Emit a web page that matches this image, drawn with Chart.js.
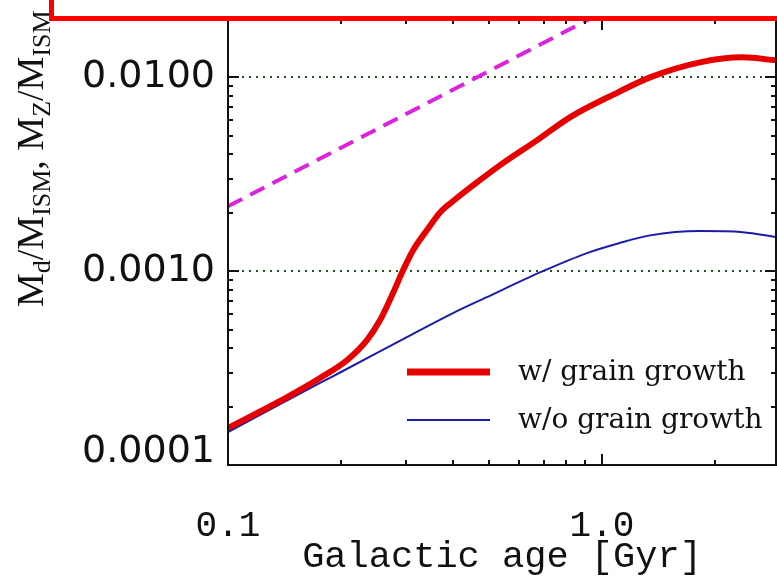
<!DOCTYPE html>
<html>
<head>
<meta charset="utf-8">
<script src="https://cdn.jsdelivr.net/npm/chart.js@4"></script>
<style>
  html, body { margin: 0; padding: 0; background: #fff; overflow: hidden; }
  #wrap { position: relative; width: 777px; height: 582px; }
  #redBox {
    position: absolute; left: 49px; top: -10px; width: 760px; height: 31px;
    box-sizing: border-box; border: 5px solid #ff0000; background: #fff;
  }
</style>
</head>
<body>
<div id="wrap">
  <canvas id="dustChart"></canvas>
  <div id="redBox"></div>
</div>
<script>
/* ============================== */
/* DATA */
/* ============================== */

// galactic age [Gyr]
const ageRed = [0.1, 0.1439, 0.1762, 0.208, 0.2353, 0.2549, 0.2762, 0.2938, 0.3123, 0.3405,
                0.369, 0.40, 0.4519, 0.5435, 0.670, 0.821, 1.104, 1.344, 1.828, 2.383, 2.92];
// Md/MISM with grain growth
const dustWithGrowth = [1.55e-4, 2.24e-4, 2.81e-4, 3.47e-4, 4.41e-4, 5.58e-4, 7.71e-4, 1.01e-3, 1.28e-3, 1.63e-3,
                        2.01e-3, 2.30e-3, 2.77e-3, 3.61e-3, 4.73e-3, 6.22e-3, 8.37e-3, 1.0e-2, 1.195e-2, 1.268e-2, 1.224e-2];

const ageBlue = [0.1, 0.1762, 0.2, 0.301, 0.3997, 0.4925, 0.695, 0.912, 1.104, 1.344, 1.828, 2.383, 2.92];
// Md/MISM without grain growth
const dustNoGrowth = [1.48e-4, 2.65e-4, 3.01e-4, 4.57e-4, 6.08e-4, 7.35e-4, 1.0e-3, 1.24e-3, 1.39e-3, 1.53e-3, 1.61e-3, 1.59e-3, 1.50e-3];

// MZ/MISM (metallicity)
const ageMetal = [0.1, 0.2, 0.5, 1.0];
const metals = [0.00216, 0.00432, 0.0108, 0.0216];

const legendLabels = ['w/ grain growth', 'w/o grain growth'];

const xTickValues = [0.1, 1.0];
const xTickLabels = ['0.1', '1.0'];
const yTickValues = [0.0001, 0.001, 0.01];
const yTickLabels = ['0.0001', '0.0010', '0.0100'];
const gridValues = [0.001, 0.01];

const xTitle = 'Galactic age [Gyr]';
// [text, isSubscript]
const yTitleParts = [['M', 0], ['d', 1], ['/', 0], ['M', 0], ['ISM', 1], [', ', 0],
                     ['M', 0], ['Z', 1], ['/', 0], ['M', 0], ['ISM', 1]];

const X_MIN = 0.1, X_MAX = 2.92;
const Y_MIN = 0.0001, Y_MAX = 0.02;

function toPoints(xs, ys){
  return xs.map((x, i) => ({x: x, y: ys[i]}));
}

function logSteps(min, max){
  const out = [];
  for(let e = Math.floor(Math.log10(min)); Math.pow(10, e) <= max * 1.0001; e++){
    const d = Math.pow(10, e);
    for(let k = 1; k < 10; k++){
      const v = k * d;
      if(v >= min * 0.9999 && v <= max * 1.0001) out.push({v: v, major: k === 1});
    }
  }
  return out;
}

/* ============================== */
/* FRAME, GRID, LEGEND, Y TITLE */
/* ============================== */

const framePlugin = {
  id: 'framePlugin',
  beforeDatasetsDraw(chart){
    const {ctx, chartArea: a, scales: {y}} = chart;
    ctx.save();
    ctx.strokeStyle = 'rgb(35,80,35)';
    ctx.lineWidth = 2;
    ctx.setLineDash([2, 5]);
    gridValues.forEach(v => {
      const py = Math.round(y.getPixelForValue(v));
      ctx.beginPath();
      ctx.moveTo(a.left, py);
      ctx.lineTo(a.right, py);
      ctx.stroke();
    });
    ctx.restore();
  },
  afterDatasetsDraw(chart){
    const {ctx, chartArea: a, scales: {x, y}} = chart;
    ctx.save();
    ctx.strokeStyle = '#111';
    ctx.lineWidth = 2;
    ctx.strokeRect(a.left, a.top, a.right - a.left, a.bottom - a.top);

    logSteps(Y_MIN, Y_MAX).forEach(t => {
      const py = Math.round(y.getPixelForValue(t.v));
      const len = t.major ? 11 : 5;
      ctx.beginPath();
      ctx.moveTo(a.left, py); ctx.lineTo(a.left + len, py);
      ctx.moveTo(a.right, py); ctx.lineTo(a.right - len, py);
      ctx.stroke();
    });
    logSteps(X_MIN, X_MAX).forEach(t => {
      const px = Math.round(x.getPixelForValue(t.v));
      const len = t.major ? 11 : 5;
      ctx.beginPath();
      ctx.moveTo(px, a.bottom); ctx.lineTo(px, a.bottom - len);
      ctx.moveTo(px, a.top); ctx.lineTo(px, a.top + len);
      ctx.stroke();
    });

    // legend
    const rows = [372, 420];
    chart.data.datasets.slice(0, 2).forEach((ds, i) => {
      ctx.strokeStyle = ds.borderColor;
      ctx.lineWidth = i === 0 ? 7 : 2;
      ctx.beginPath();
      ctx.moveTo(407, rows[i]);
      ctx.lineTo(490, rows[i]);
      ctx.stroke();
      ctx.fillStyle = '#111';
      ctx.font = '28px "DejaVu Serif"';
      ctx.textBaseline = 'alphabetic';
      ctx.textAlign = 'left';
      ctx.fillText(ds.label, 518, rows[i] + 8);
    });
    ctx.restore();
  },
  afterDraw(chart){
    const {ctx} = chart;
    ctx.save();
    ctx.translate(43, 307);
    ctx.rotate(-Math.PI / 2);
    ctx.fillStyle = '#111';
    ctx.textBaseline = 'alphabetic';
    ctx.textAlign = 'left';
    let pos = 0;
    yTitleParts.forEach(p => {
      ctx.font = p[1] ? '26px "Liberation Serif"' : '38px "Liberation Serif"';
      ctx.fillText(p[0], pos, p[1] ? 7 : 0);
      pos += ctx.measureText(p[0]).width;
    });
    ctx.restore();
  }
};

/* ============================== */
/* CHART */
/* ============================== */

const dustChart = new Chart(
document.getElementById('dustChart'),
{
  type: 'line',
  data: {
    datasets: [{
      label: legendLabels[0],
      data: toPoints(ageRed, dustWithGrowth),
      borderColor: '#e60000',
      borderWidth: 6,
      pointRadius: 0,
      cubicInterpolationMode: 'monotone'
    },{
      label: legendLabels[1],
      data: toPoints(ageBlue, dustNoGrowth),
      borderColor: '#1c1caa',
      borderWidth: 2,
      pointRadius: 0,
      cubicInterpolationMode: 'monotone'
    },{
      label: 'MZ/MISM',
      data: toPoints(ageMetal, metals),
      borderColor: '#dd22dd',
      borderWidth: 4,
      borderDash: [16, 9],
      pointRadius: 0,
      tension: 0
    }]
  },
  options: {
    responsive: true,
    maintainAspectRatio: false,
    animation: false,
    layout: { padding: { left: 0, right: 1, top: 19, bottom: 0 } },
    plugins: {
      legend: { display: false },
      tooltip: { enabled: false }
    },
    scales: {
      x: {
        type: 'logarithmic',
        min: X_MIN,
        max: X_MAX,
        grid: { display: false, drawTicks: false },
        border: { display: false },
        afterBuildTicks: (scale) => {
          scale.ticks = xTickValues.map(v => ({value: v}));
        },
        afterFit: (scale) => {
          scale.height = 117;
          scale.paddingLeft = 0;
          scale.paddingRight = 0;
        },
        ticks: {
          autoSkip: false,
          maxRotation: 0,
          padding: 40,
          color: '#111',
          font: { family: 'Liberation Mono', size: 36 },
          callback: (value, i) => xTickLabels[i]
        },
        title: {
          display: true,
          text: xTitle,
          color: '#111',
          padding: { top: 0, bottom: 3 },
          font: { family: 'Liberation Mono', size: 37 }
        }
      },
      y: {
        type: 'logarithmic',
        min: Y_MIN,
        max: Y_MAX,
        grid: { display: false, drawTicks: false },
        border: { display: false },
        afterBuildTicks: (scale) => {
          scale.ticks = yTickValues.map(v => ({value: v}));
        },
        afterFit: (scale) => {
          scale.width = 228;
          scale.paddingTop = 0;
          scale.paddingBottom = 0;
        },
        ticks: {
          autoSkip: false,
          padding: 13,
          color: '#111',
          font: { family: 'DejaVu Sans', size: 38, lineHeight: 0.7 },
          callback: (value, i) => i === 0 ? [yTickLabels[i], ''] : yTickLabels[i]
        }
      }
    }
  },
  plugins: [framePlugin]
});
</script>
</body>
</html>
